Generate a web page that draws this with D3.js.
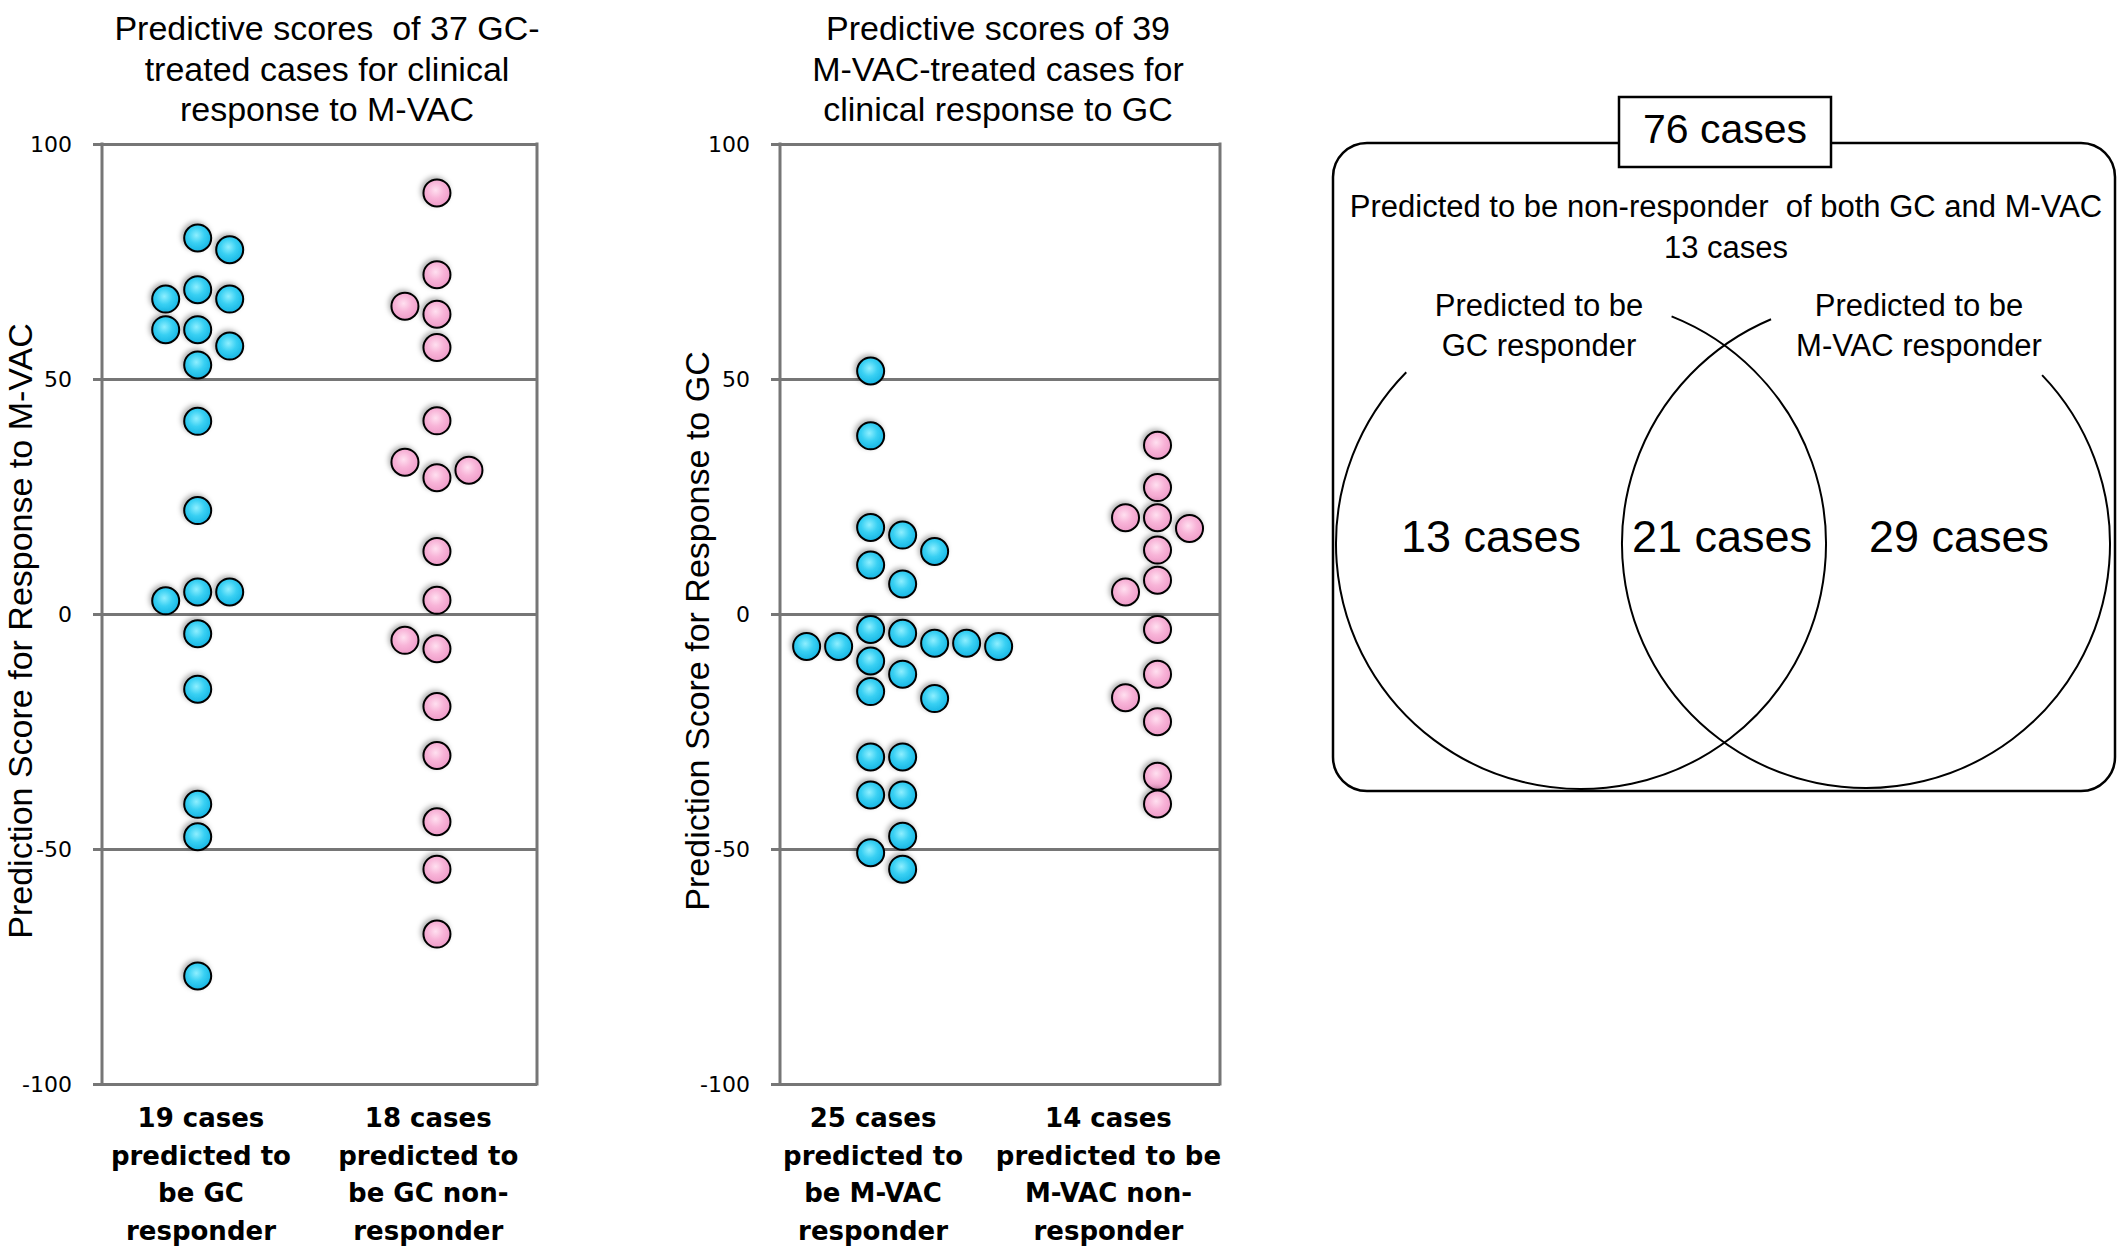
<!DOCTYPE html>
<html>
<head>
<meta charset="utf-8">
<script src="https://cdn.jsdelivr.net/npm/d3@7"></script>
<style>
  body { margin: 0; background: #fff; }
</style>
</head>
<body>
<script>
// scores, slot = which column of the dot stack
const yTicks = [-100, -50, 0, 50, 100]

const gcResp = [80, 77.5, 69, 67, 67, 60.5, 60.5, 57, 53, 41, 22, 2.8, 4.7, 4.7, -4.2, -16, -40.5, -47.4, -77]
const gcRespSlot = [0, 1, 0, -1, 1, -1, 0, 1, 0, 0, 0, -1, 0, 1, 0, 0, 0, 0, 0]
const gcNon = [89.6, 72.2, 65.5, 63.8, 56.7, 41.1, 32.3, 30.6, 29, 13.3, 2.9, -5.6, -7.4, -19.7, -30.1, -44.2, -54.3, -68.1]
const gcNonSlot = [0, 0, -1, 0, 0, 0, -1, 1, 0, 0, 0, -1, 0, 0, 0, 0, 0, 0]

const mvacResp = [51.7, 37.9, 18.4, 16.8, 13.3, 10.4, 6.4, -6.9, -6.9, -3.3, -4.1, -6.2, -6.2, -6.9, -10, -12.8, -16.5, -18, -30.4, -30.4, -38.5, -38.5, -47.3, -50.8, -54.3]
const mvacRespSlot = [0, 0, 0, 1, 2, 0, 1, -2, -1, 0, 1, 2, 3, 4, 0, 1, 0, 2, 0, 1, 0, 1, 1, 0, 1]
const mvacNon = [35.9, 26.9, 20.5, 20.5, 18.2, 13.6, 7.2, 4.7, -3.3, -12.8, -17.8, -22.9, -34.5, -40.4]
const mvacNonSlot = [0, 0, -1, 0, 1, 0, 0, -1, 0, 0, -1, 0, 0, 0]

const p1Title = ['Predictive scores\u00a0 of 37 GC-', 'treated cases for clinical', 'response to M-VAC']
const p2Title = ['Predictive scores of 39', 'M-VAC-treated cases for', 'clinical response to GC']
const p1YLabel = 'Prediction Score for Response to M-VAC'
const p2YLabel = 'Prediction Score for Response to GC'
const p1Cats = [['19 cases', 'predicted to', 'be GC', 'responder'], ['18 cases', 'predicted to', 'be GC non-', 'responder']]
const p2Cats = [['25 cases', 'predicted to', 'be M-VAC', 'responder'], ['14 cases', 'predicted to be', 'M-VAC non-', 'responder']]
// group centres on a 0.5..2.5 category axis
const p1DotX = [0.94, 2.04]
const p1CatX = [0.955, 2.0]
const p2DotX = [0.912, 2.216]
const p2CatX = [0.923, 1.993]

const vennTotal = 76
const vennBoth = 13
const vennCounts = [13, 21, 29]
const vennSets = [['Predicted to be', 'GC responder'], ['Predicted to be', 'M-VAC responder']]

const W = 2126
const H = 1249
const sans = '"Liberation Sans", Arial, sans-serif'
const verd = '"DejaVu Sans", Verdana, sans-serif'
const gray = '#767676'
const r = 13.5
const step = 32

const svg = d3.select('body').append('svg')
  .attr('width', W)
  .attr('height', H)
  .attr('viewBox', [0, 0, W, H])
  .style('font-family', sans)

const defs = svg.append('defs')
defs.append('filter').attr('id', 'shadow')
  .attr('x', '-50%').attr('y', '-50%').attr('width', '200%').attr('height', '200%')
  .append('feDropShadow')
  .attr('dx', -2).attr('dy', -2).attr('stdDeviation', 2.5)
  .attr('flood-color', '#000').attr('flood-opacity', 0.3)

const grads = [
  { id: 'cyan', stops: ['#8eefff', '#38d0f3', '#18b6e4'] },
  { id: 'pink', stops: ['#ffe0f0', '#f8b4d8', '#ef9cc9'] }
]
grads.forEach(g => {
  const rg = defs.append('radialGradient').attr('id', g.id)
    .attr('cx', '45%').attr('cy', '40%').attr('r', '60%')
  g.stops.forEach((c, i) => rg.append('stop').attr('offset', i / 2).attr('stop-color', c))
})

const y = d3.scaleLinear().domain([-100, 100]).range([1084, 144])

const panels = [
  {
    x0: 102, x1: 537, titleX: 327, labelX: 32,
    title: p1Title, ylabel: p1YLabel, cats: p1Cats, dotX: p1DotX, catX: p1CatX,
    groups: [[gcResp, gcRespSlot, 'cyan'], [gcNon, gcNonSlot, 'pink']]
  },
  {
    x0: 780, x1: 1220, titleX: 998, labelX: 709,
    title: p2Title, ylabel: p2YLabel, cats: p2Cats, dotX: p2DotX, catX: p2CatX,
    groups: [[mvacResp, mvacRespSlot, 'cyan'], [mvacNon, mvacNonSlot, 'pink']]
  }
]

panels.forEach(p => {
  const w = p.x1 - p.x0
  const x = d3.scaleLinear().domain([0.5, 2.5]).range([p.x0, p.x1])
  const g = svg.append('g')

  // grid lines
  g.append('g')
    .attr('transform', `translate(${p.x0},0)`)
    .call(d3.axisLeft(y).tickValues(yTicks).tickSizeInner(-w).tickSizeOuter(0).tickFormat(''))
    .call(a => a.select('.domain').remove())
    .call(a => a.selectAll('.tick line').attr('stroke', gray).attr('stroke-width', 3))

  // outer ticks + labels
  g.append('g')
    .attr('transform', `translate(${p.x0},0)`)
    .call(d3.axisLeft(y).tickValues(yTicks).tickSizeInner(9).tickSizeOuter(0).tickPadding(21)
      .tickFormat(d => String(d)))
    .call(a => a.select('.domain').remove())
    .call(a => a.selectAll('.tick line').attr('stroke', gray).attr('stroke-width', 3))
    .call(a => a.selectAll('.tick text')
      .attr('fill', '#000')
      .style('font-family', verd)
      .style('font-size', '22px'))

  g.selectAll('.side').data([p.x0, p.x1]).enter().append('line')
    .attr('x1', d => d).attr('x2', d => d)
    .attr('y1', y(100) - 1.5).attr('y2', y(-100) + 1.5)
    .attr('stroke', gray).attr('stroke-width', 3)

  g.append('text')
    .attr('text-anchor', 'middle')
    .style('font-size', '34px')
    .selectAll('tspan').data(p.title).enter().append('tspan')
    .attr('x', p.titleX)
    .attr('y', (d, i) => 40 + i * 40.5)
    .text(d => d)

  g.append('text')
    .attr('transform', `translate(${p.labelX},631) rotate(-90)`)
    .attr('text-anchor', 'middle')
    .style('font-size', '34px')
    .text(p.ylabel)

  p.cats.forEach((lines, ci) => {
    g.append('text')
      .attr('text-anchor', 'middle')
      .style('font-family', verd)
      .style('font-weight', 'bold')
      .style('font-size', '26px')
      .selectAll('tspan').data(lines).enter().append('tspan')
      .attr('x', x(p.catX[ci]))
      .attr('y', (d, i) => 1127 + i * 37.5)
      .text(d => d)
  })

  p.groups.forEach(([vals, slots, col], gi) => {
    g.append('g')
      .selectAll('circle')
      .data(vals.map((v, i) => ({ v, s: slots[i] })))
      .enter().append('circle')
      .attr('cx', d => x(p.dotX[gi]) + d.s * step)
      .attr('cy', d => y(d.v))
      .attr('r', r)
      .attr('fill', `url(#${col})`)
      .attr('stroke', '#000')
      .attr('stroke-width', 2)
      .attr('filter', 'url(#shadow)')
  })
})

// Venn diagram
const venn = svg.append('g')
venn.append('rect')
  .attr('x', 1333).attr('y', 143)
  .attr('width', 782).attr('height', 648)
  .attr('rx', 34)
  .attr('fill', 'none').attr('stroke', '#000').attr('stroke-width', 2.5)

venn.append('rect')
  .attr('x', 1619).attr('y', 97)
  .attr('width', 212).attr('height', 70)
  .attr('fill', '#fff').attr('stroke', '#000').attr('stroke-width', 2.5)

venn.append('text')
  .attr('x', 1725).attr('y', 143)
  .attr('text-anchor', 'middle')
  .style('font-size', '41px')
  .text(`${vennTotal} cases`)

venn.append('text')
  .attr('text-anchor', 'middle')
  .style('font-size', '31px')
  .selectAll('tspan')
  .data(['Predicted to be non-responder\u00a0 of both GC and M-VAC', `${vennBoth} cases`])
  .enter().append('tspan')
  .attr('x', 1726)
  .attr('y', (d, i) => 217 + i * 41)
  .text(d => d)

const deg = Math.PI / 180
const circles = [
  { cx: 1581, cy: 544, r: 245, a0: -68.3, a1: 224.5, tx: 1539 },
  { cx: 1866, cy: 544, r: 244, a0: -43.8, a1: 247.1, tx: 1919 }
]
circles.forEach((c, i) => {
  const path = d3.path()
  path.arc(c.cx, c.cy, c.r, c.a0 * deg, c.a1 * deg)
  venn.append('path')
    .attr('d', path.toString())
    .attr('fill', 'none').attr('stroke', '#000').attr('stroke-width', 2)

  venn.append('text')
    .attr('text-anchor', 'middle')
    .style('font-size', '31px')
    .selectAll('tspan').data(vennSets[i]).enter().append('tspan')
    .attr('x', c.tx)
    .attr('y', (d, k) => 316 + k * 40)
    .text(d => d)
})

const countX = [1491, 1722, 1959]
venn.selectAll('.count').data(vennCounts).enter().append('text')
  .attr('x', (d, i) => countX[i])
  .attr('y', 552)
  .attr('text-anchor', 'middle')
  .style('font-size', '45px')
  .text(d => `${d} cases`)
</script>
</body>
</html>
